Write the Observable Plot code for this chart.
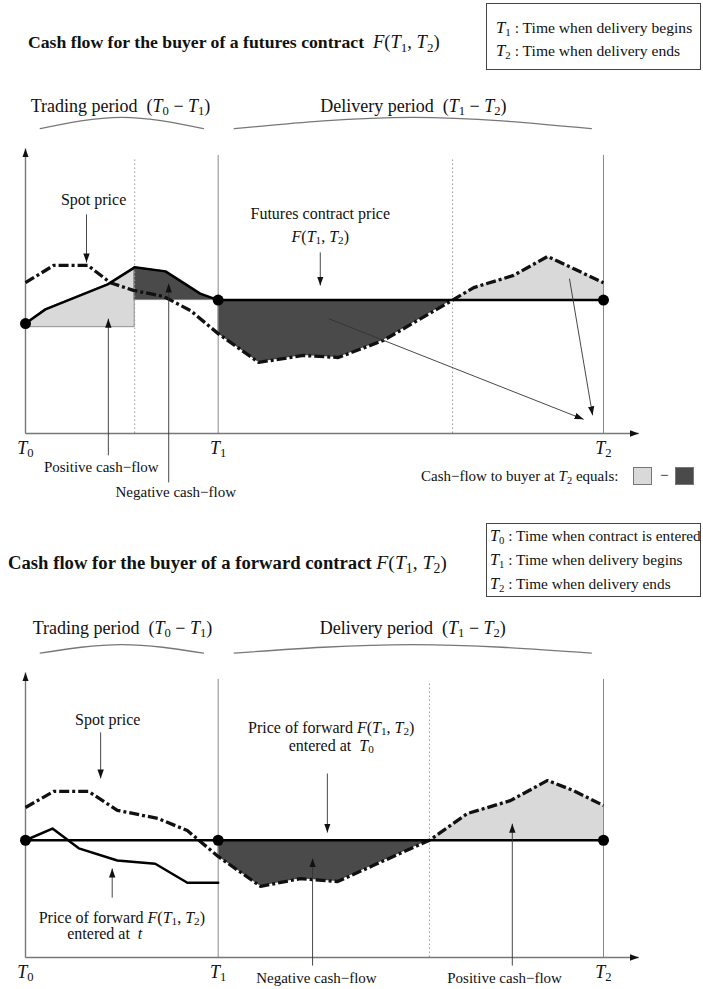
<!DOCTYPE html>
<html><head><meta charset="utf-8">
<script src="https://cdn.jsdelivr.net/npm/d3@7"></script>
<script src="https://cdn.jsdelivr.net/npm/@observablehq/plot@0.6"></script>
<style>
body{margin:0;background:#fff;font-family:"Liberation Serif","Times New Roman",serif;color:#111;}
#page{position:relative;width:703px;height:989px;overflow:hidden;background:#fff;}
.abs{position:absolute;white-space:nowrap;}
.title{font-weight:bold;line-height:20px;}
.title .m{font-weight:normal;font-size:1.05em;}
sub{font-size:70%;vertical-align:-0.3em;line-height:0;}
.box{border:1px solid #444;box-sizing:border-box;overflow:visible;}
.box i{font-size:1.07em;}
.sq{position:absolute;width:19px;height:18px;box-sizing:border-box;border:1px solid #777;}
svg{overflow:visible;}
</style>
</head><body>
<div id="page">
  <div class="abs title" style="left:28px;top:32px;font-size:17.7px">Cash flow for the buyer of a futures contract&nbsp; <span class="m"><i>F</i>(<i>T</i><sub>1</sub>, <i>T</i><sub>2</sub>)</span></div>
  <div class="abs box" style="left:486px;top:3px;width:215px;height:67px;padding:12px 0 0 9px;line-height:23px;font-size:15.6px">
    <div><i>T</i><sub>1</sub> : Time when delivery begins</div>
    <div><i>T</i><sub>2</sub> : Time when delivery ends</div>
  </div>
  <div id="top" class="abs" style="left:0;top:80px"></div>
  <div class="abs" style="left:421px;top:467px;font-size:15px;line-height:18px">Cash−flow to buyer at <i>T</i><sub>2</sub> equals:</div>
  <div class="sq" style="left:633px;top:467px;background:#d9d9d9"></div>
  <div class="abs" style="left:660px;top:466px;font-size:15px;line-height:18px">−</div>
  <div class="sq" style="left:675px;top:467px;background:#4a4a4a"></div>

  <div class="abs title" style="left:8px;top:553px;font-size:18.7px">Cash flow for the buyer of a forward contract <span class="m"><i>F</i>(<i>T</i><sub>1</sub>, <i>T</i><sub>2</sub>)</span></div>
  <div class="abs box" style="left:486px;top:523px;width:215px;height:74px;padding:0 0 0 3px;line-height:24px;font-size:15.3px">
    <div><i>T</i><sub>0</sub> : Time when contract is entered</div>
    <div><i>T</i><sub>1</sub> : Time when delivery begins</div>
    <div><i>T</i><sub>2</sub> : Time when delivery ends</div>
  </div>
  <div id="bottom" class="abs" style="left:0;top:604px"></div>
</div>
<script>
// ---------- shared time axis (T0, T1, T2) ----------
const timeTicks = [0, 30, 90];
const timeTickLabels = ["T₀", "T₁", "T₂"];
const yAxisTop = 70.5;
const xAxisEnd = 95.5;
const lineTopT1T2 = 68.8;
const lineTopDotted = 68;

// ---------- top panel: futures ----------
const topFuturesT = [0, 3.1, 12.8, 17, 21.8, 27.2, 30];
const topFuturesP = [27.2, 30.7, 36.9, 41.1, 40.1, 34.6, 33];
const topMarginBase = 26.3;
const topContractPrice = 33;
const topSpotT = [0, 4.4, 9.7, 13.2, 16.8, 21.5, 25.7, 30, 36.3, 43.3, 48.7, 55.7, 66.5, 69.8, 76, 81.3, 85.3, 90];
const topSpotP = [37.3, 41.6, 41.6, 37.3, 35.4, 33.9, 30.4, 24.7, 17.6, 19.3, 18.8, 23, 33, 36.1, 39.1, 43.8, 40.8, 37.3];
const topDotted = [17, 66.5];
const topArrowX1 = [9.5, 45.9, 12.9, 22.3, 47.2, 84.7];
const topArrowY1 = [54.2, 44.8, -5.4, -12.1, 28.4, 38.3];
const topArrowX2 = [9.5, 45.9, 12.9, 22.3, 86.9, 88.3];
const topArrowY2 = [42.3, 36.6, 28.4, 37.1, 3.5, 4.5];
const topLabelText = ["Spot price", "Futures contract price", "F(T₁, T₂)"];
const topLabelT = [10.6, 45.9, 45.9];
const topLabelP = [57.9, 54.4, 48.7];
const topFlowText = ["Positive cash−flow", "Negative cash−flow"];
const topFlowT = [11.8, 23.4];
const topFlowP = [-8.4, -14.6];
const topPeriodText = ["Trading period  (T₀ − T₁)", "Delivery period  (T₁ − T₂)"];
const topPeriodT = [14.8, 60.4];
const topPeriodP = [80.9, 80.9];
const topBraceT = [[2.3, 15.0, 27.7], [32.5, 60.3, 88.1]];
const topBraceP = [75.4, 78.2, 75.4];

// ---------- bottom panel: forward ----------
const botForwardPrice = 29;
const botForwardAtTT = [0, 4.2, 8.3, 14.3, 20.2, 25.2, 30];
const botForwardAtTP = [29, 31.9, 27, 24, 23.2, 18.5, 18.5];
const botSpotT = [0, 4.4, 9.8, 14.3, 20.6, 25.2, 30, 36.6, 42.8, 48.6, 54.2, 62.9, 68.8, 75.5, 81.3, 85.3, 90];
const botSpotP = [37.1, 41.1, 41.1, 36.4, 34.4, 31.4, 25, 17.6, 19.5, 18.8, 22.8, 29, 35.6, 38.8, 43.8, 41.3, 37.6];
const botDotted = [62.9];
const botArrowX1 = [11.7, 47.0, 13.5, 44.7, 75.8];
const botArrowY1 = [55.7, 45.5, 14.8, -2, -2];
const botArrowX2 = [11.7, 47.0, 13.5, 44.7, 75.8];
const botArrowY2 = [44.3, 30.9, 22.0, 24.5, 33.1];
const botLabelText = ["Spot price", "Price of forward F(T₁, T₂)", "entered at  T₀", "Price of forward F(T₁, T₂)"];
const botLabelT = [12.8, 47.6, 47.6, 15.0];
const botLabelP = [58.9, 56.9, 52.4, 9.9];
const botFlowText = ["Negative cash−flow", "Positive cash−flow"];
const botFlowT = [45.3, 74.6];
const botFlowP = [-5.2, -5.2];
const botLabelLeftText = ["entered at  t"];
const botLabelLeftT = [6.5];
const botLabelLeftP = [5.9];
const botPeriodText = ["Trading period  (T₀ − T₁)", "Delivery period  (T₁ − T₂)"];
const botPeriodT = [15.1, 60.3];
const botPeriodP = [81.4, 81.4];
const botBraceT = [[2.3, 15.0, 27.7], [32.5, 60.3, 88.1]];
const botBraceP = [75.3, 77.4, 75.3];

// ---------- helpers ----------
const LIGHT = "#d9d9d9", DARK = "#4a4a4a", OUTLINE = "#7a7a7a";
const NS = "http://www.w3.org/2000/svg";
const T1 = timeTicks[1], T2 = timeTicks[2];
const zipTP = (T, P) => T.map((t, i) => ({t, p: P[i]}));
const zipLabels = (txt, T, P) => txt.map((text, i) => ({text, t: T[i], p: P[i]}));
const zipArrows = (X1, Y1, X2, Y2) => X1.map((x1, i) => ({x1, y1: Y1[i], x2: X2[i], y2: Y2[i]}));
const braces = (BT, BP) => BT.flatMap((ts, k) => ts.map((t, i) => ({t, p: BP[i], k})));

function headMarker(color, context) {
  const doc = (context && context.document) || document;
  const m = doc.createElementNS(NS, "marker");
  m.setAttribute("viewBox", "-9 -3.5 10 7");
  m.setAttribute("markerWidth", 10);
  m.setAttribute("markerHeight", 7);
  m.setAttribute("markerUnits", "userSpaceOnUse");
  m.setAttribute("refX", 0);
  m.setAttribute("refY", 0);
  m.setAttribute("orient", "auto");
  const p = doc.createElementNS(NS, "path");
  p.setAttribute("d", "M-9,-3.2L0,0L-9,3.2Z");
  p.setAttribute("fill", "#111");
  p.setAttribute("stroke", "none");
  m.appendChild(p);
  return m;
}

const SUB = {"₀": "0", "₁": "1", "₂": "2"};
function mathify(root) {
  root.querySelectorAll("text").forEach(el => {
    if (el.querySelector("tspan")) return;
    const s = el.textContent;
    const re = /T[₀₁₂]|F(?=\()|(?<=\s)t$/g;
    if (!re.test(s)) return;
    re.lastIndex = 0;
    el.textContent = "";
    let last = 0, m;
    const add = (txt, attrs) => {
      const t = document.createElementNS(NS, "tspan");
      for (const k in attrs) t.setAttribute(k, attrs[k]);
      t.textContent = txt;
      el.appendChild(t);
    };
    while ((m = re.exec(s))) {
      if (m.index > last) el.appendChild(document.createTextNode(s.slice(last, m.index)));
      const tok = m[0];
      add(tok[0], {"font-style": "italic"});
      if (tok.length > 1) add(SUB[tok[1]], {"font-size": "70%", "baseline-shift": "-22%"});
      last = m.index + tok.length;
    }
    if (last < s.length) el.appendChild(document.createTextNode(s.slice(last)));
  });
}

const spotStyle = {stroke: "#111", strokeWidth: 3.3, strokeDasharray: "10,3,3,3", strokeLinecap: "butt", strokeLinejoin: "miter"};

function frameMarks(dotted) {
  return [
    Plot.ruleX([T1, T2], {y1: 0, y2: lineTopT1T2, stroke: "#8a8a8a", strokeWidth: 1}),
    Plot.ruleX(dotted, {y1: 0, y2: lineTopDotted, stroke: "#9a9a9a", strokeWidth: 1, strokeDasharray: "1.5,2.5"}),
    Plot.link([{x1: 0, y1: 0, x2: 0, y2: yAxisTop}], {x1: "x1", y1: "y1", x2: "x2", y2: "y2", stroke: "#777", strokeWidth: 1.4, markerEnd: headMarker}),
    Plot.link([{x1: 0, y1: 0, x2: xAxisEnd, y2: 0}], {x1: "x1", y1: "y1", x2: "x2", y2: "y2", stroke: "#777", strokeWidth: 1.4, markerEnd: headMarker}),
    Plot.axisX({ticks: timeTicks, tickFormat: d => timeTickLabels[timeTicks.indexOf(d)], tickSize: 0, tickPadding: 8, fontSize: 18, label: null})
  ];
}
function periodMarks(text, T, P, BT, BP) {
  return [
    Plot.text(zipLabels(text, T, P), {x: "t", y: "p", text: "text", fontSize: 18, fill: "#111"}),
    Plot.line(braces(BT, BP), {x: "t", y: "p", z: "k", curve: "natural", stroke: "#777", strokeWidth: 1.3})
  ];
}
const common = {
  width: 703, marginTop: 70, marginLeft: 25, marginRight: 100,
  x: {domain: [0, 90]}, y: {domain: [0, 70], axis: null},
  style: {fontFamily: "Liberation Serif, Times New Roman, serif", fontSize: "16px", background: "transparent", overflow: "visible", color: "#111"}
};

// ---------- top chart ----------
const topFutures = zipTP(topFuturesT, topFuturesP);
const topSpot = zipTP(topSpotT, topSpotP);
const topChart = Plot.plot({
  ...common, height: 420, marginBottom: 67,
  marks: [
    Plot.areaY(topFutures.filter(d => d.t <= topDotted[0]), {x: "t", y1: topMarginBase, y2: "p", fill: LIGHT, stroke: OUTLINE, strokeWidth: 0.8}),
    Plot.areaY(topFutures.filter(d => d.t >= topDotted[0]), {x: "t", y1: topContractPrice, y2: "p", fill: DARK, stroke: OUTLINE, strokeWidth: 0.8}),
    Plot.areaY(topSpot.filter(d => d.t >= T1 && d.t <= topDotted[1]), {x: "t", y1: topContractPrice, y2: "p", fill: DARK}),
    Plot.areaY(topSpot.filter(d => d.t >= topDotted[1]), {x: "t", y1: topContractPrice, y2: "p", fill: LIGHT}),
    ...frameMarks(topDotted),
    Plot.line(topSpot, {x: "t", y: "p", ...spotStyle}),
    Plot.line(topFutures, {x: "t", y: "p", stroke: "#000", strokeWidth: 2.5}),
    Plot.ruleY([topContractPrice], {x1: T1, x2: T2, stroke: "#000", strokeWidth: 2.5}),
    Plot.dot([{t: 0, p: topFuturesP[0]}, {t: T1, p: topContractPrice}, {t: T2, p: topContractPrice}], {x: "t", y: "p", r: 5.5, fill: "#000"}),
    Plot.link(zipArrows(topArrowX1, topArrowY1, topArrowX2, topArrowY2), {x1: "x1", y1: "y1", x2: "x2", y2: "y2", stroke: "#333", strokeWidth: 0.9, markerEnd: headMarker}),
    Plot.text(zipLabels(topLabelText, topLabelT, topLabelP), {x: "t", y: "p", text: "text", fontSize: 16, fill: "#111"}),
    Plot.text(zipLabels(topFlowText, topFlowT, topFlowP), {x: "t", y: "p", text: "text", fontSize: 15, fill: "#111"}),
    ...periodMarks(topPeriodText, topPeriodT, topPeriodP, topBraceT, topBraceP)
  ]
});
mathify(topChart);
document.getElementById("top").appendChild(topChart);

// ---------- bottom chart ----------
const botForwardAtT = zipTP(botForwardAtTT, botForwardAtTP);
const botSpot = zipTP(botSpotT, botSpotP);
const botChart = Plot.plot({
  ...common, height: 385, marginBottom: 32,
  marks: [
    Plot.areaY(botSpot.filter(d => d.t >= T1 && d.t <= botDotted[0]), {x: "t", y1: botForwardPrice, y2: "p", fill: DARK}),
    Plot.areaY(botSpot.filter(d => d.t >= botDotted[0]), {x: "t", y1: botForwardPrice, y2: "p", fill: LIGHT}),
    ...frameMarks(botDotted),
    Plot.line(botSpot, {x: "t", y: "p", ...spotStyle}),
    Plot.line(botForwardAtT, {x: "t", y: "p", stroke: "#000", strokeWidth: 2.5}),
    Plot.ruleY([botForwardPrice], {x1: 0, x2: T2, stroke: "#000", strokeWidth: 2.5}),
    Plot.dot(timeTicks.map(t => ({t, p: botForwardPrice})), {x: "t", y: "p", r: 5.5, fill: "#000"}),
    Plot.link(zipArrows(botArrowX1, botArrowY1, botArrowX2, botArrowY2), {x1: "x1", y1: "y1", x2: "x2", y2: "y2", stroke: "#333", strokeWidth: 0.9, markerEnd: headMarker}),
    Plot.text(zipLabels(botLabelText, botLabelT, botLabelP), {x: "t", y: "p", text: "text", fontSize: 16, fill: "#111"}),
    Plot.text(zipLabels(botFlowText, botFlowT, botFlowP), {x: "t", y: "p", text: "text", fontSize: 15, fill: "#111"}),
    Plot.text(zipLabels(botLabelLeftText, botLabelLeftT, botLabelLeftP), {x: "t", y: "p", text: "text", textAnchor: "start", fontSize: 16, fill: "#111"}),
    ...periodMarks(botPeriodText, botPeriodT, botPeriodP, botBraceT, botBraceP)
  ]
});
mathify(botChart);
document.getElementById("bottom").appendChild(botChart);
</script>
</body></html>
